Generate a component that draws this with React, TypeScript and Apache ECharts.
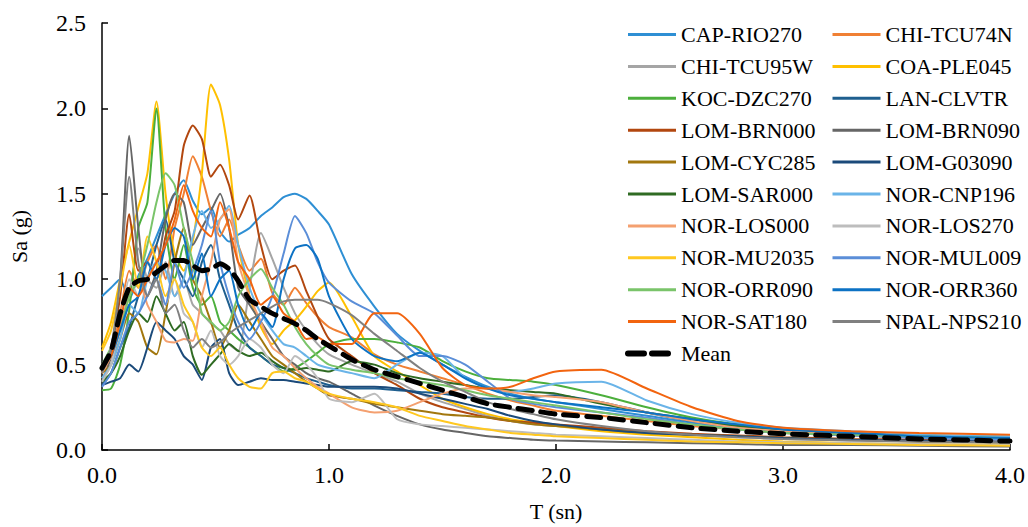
import React, { useEffect, useRef } from "react";
import * as echarts from "echarts";

const periods = [0, 0.04, 0.08, 0.12, 0.16, 0.2, 0.24, 0.28, 0.32, 0.36, 0.4, 0.44, 0.48, 0.52, 0.56, 0.6, 0.65, 0.7, 0.75, 0.8, 0.85, 0.9, 0.95, 1.0, 1.1, 1.2, 1.3, 1.4, 1.5, 1.6, 1.7, 1.8, 1.9, 2.0, 2.2, 2.4, 2.6, 2.8, 3.0, 3.3, 3.6, 4.0];

const capRio270 = [0.90, 0.95, 1.00, 0.88, 1.02, 1.12, 1.25, 1.38, 1.50, 1.58, 1.46, 1.38, 1.42, 1.28, 1.22, 1.26, 1.30, 1.37, 1.42, 1.48, 1.50, 1.47, 1.40, 1.32, 1.03, 0.84, 0.68, 0.58, 0.50, 0.43, 0.37, 0.33, 0.30, 0.28, 0.24, 0.20, 0.16, 0.13, 0.11, 0.09, 0.075, 0.06];
const chiTcu74n = [0.45, 0.55, 0.80, 1.05, 0.95, 1.10, 1.20, 1.00, 1.30, 1.50, 1.72, 1.60, 1.40, 1.25, 1.35, 1.20, 1.05, 1.12, 0.92, 0.85, 0.95, 0.86, 0.78, 0.72, 0.66, 0.56, 0.50, 0.46, 0.42, 0.38, 0.33, 0.29, 0.26, 0.23, 0.20, 0.17, 0.14, 0.12, 0.10, 0.085, 0.075, 0.065];
const chiTcu95w = [0.42, 0.50, 0.72, 0.92, 1.18, 1.00, 0.95, 1.10, 0.90, 1.00, 0.85, 0.80, 0.74, 0.70, 0.62, 0.58, 0.95, 1.27, 1.12, 0.95, 0.80, 0.70, 0.62, 0.56, 0.50, 0.45, 0.40, 0.33, 0.28, 0.24, 0.20, 0.17, 0.15, 0.14, 0.12, 0.10, 0.085, 0.075, 0.065, 0.055, 0.05, 0.04];
const coaPle045 = [0.60, 0.75, 1.00, 1.22, 1.42, 1.62, 2.04, 1.50, 1.15, 1.05, 1.22, 1.62, 2.14, 2.02, 1.70, 1.20, 0.90, 0.72, 0.62, 0.70, 0.76, 0.84, 0.93, 0.98, 0.78, 0.55, 0.46, 0.38, 0.30, 0.25, 0.21, 0.18, 0.16, 0.14, 0.11, 0.09, 0.075, 0.06, 0.05, 0.04, 0.035, 0.03];
const kocDzc270 = [0.35, 0.36, 0.50, 0.82, 1.30, 1.45, 2.00, 1.30, 1.00, 1.20, 0.95, 0.85, 0.90, 0.75, 0.70, 0.65, 0.60, 0.55, 0.50, 0.46, 0.48, 0.52, 0.57, 0.62, 0.65, 0.65, 0.63, 0.60, 0.52, 0.46, 0.42, 0.41, 0.40, 0.38, 0.32, 0.25, 0.19, 0.15, 0.12, 0.10, 0.085, 0.07];
const lanClvtr = [0.38, 0.45, 0.60, 0.72, 0.90, 1.00, 1.20, 1.35, 1.10, 1.00, 0.90, 1.10, 1.20, 1.00, 0.85, 0.70, 0.60, 0.55, 0.50, 0.48, 0.45, 0.42, 0.40, 0.38, 0.36, 0.36, 0.35, 0.34, 0.33, 0.31, 0.30, 0.30, 0.31, 0.32, 0.28, 0.22, 0.17, 0.14, 0.12, 0.10, 0.085, 0.07];
const lomBrn000 = [0.45, 0.60, 0.90, 1.38, 1.05, 1.10, 1.00, 1.25, 1.40, 1.78, 1.90, 1.82, 1.60, 1.67, 1.55, 1.35, 1.49, 1.20, 1.00, 1.05, 1.08, 0.93, 0.78, 0.65, 0.55, 0.45, 0.38, 0.30, 0.25, 0.22, 0.19, 0.17, 0.16, 0.15, 0.13, 0.11, 0.095, 0.085, 0.075, 0.065, 0.06, 0.05];
const lomBrn090 = [0.40, 0.55, 1.00, 1.84, 1.30, 0.90, 1.05, 1.35, 1.50, 1.45, 1.20, 1.30, 1.40, 1.50, 1.30, 0.95, 0.85, 0.75, 0.65, 0.55, 0.50, 0.45, 0.42, 0.40, 0.33, 0.26, 0.20, 0.15, 0.12, 0.10, 0.08, 0.07, 0.06, 0.055, 0.05, 0.045, 0.04, 0.035, 0.03, 0.03, 0.025, 0.02];
const lomCyc285 = [0.45, 0.50, 0.65, 0.80, 0.75, 0.60, 0.56, 0.80, 1.10, 1.30, 1.00, 0.90, 0.75, 0.60, 0.70, 0.85, 0.75, 0.65, 0.55, 0.50, 0.45, 0.40, 0.36, 0.32, 0.30, 0.27, 0.25, 0.23, 0.21, 0.20, 0.19, 0.17, 0.15, 0.14, 0.12, 0.10, 0.09, 0.08, 0.07, 0.06, 0.05, 0.045];
const lomG03090 = [0.38, 0.40, 0.42, 0.50, 0.46, 0.60, 0.75, 0.70, 0.65, 0.55, 0.50, 0.41, 0.60, 0.65, 0.45, 0.38, 0.40, 0.42, 0.41, 0.41, 0.40, 0.39, 0.38, 0.37, 0.37, 0.37, 0.36, 0.33, 0.30, 0.27, 0.24, 0.20, 0.17, 0.15, 0.12, 0.10, 0.09, 0.08, 0.07, 0.06, 0.055, 0.05];
const lomSar000 = [0.40, 0.45, 0.55, 0.70, 0.80, 0.75, 0.90, 0.80, 0.70, 0.75, 0.55, 0.44, 0.50, 0.56, 0.62, 0.58, 0.55, 0.57, 0.52, 0.48, 0.47, 0.48, 0.47, 0.46, 0.52, 0.50, 0.45, 0.42, 0.40, 0.38, 0.36, 0.35, 0.34, 0.33, 0.27, 0.22, 0.18, 0.14, 0.12, 0.10, 0.08, 0.07];
const norCnp196 = [0.42, 0.50, 0.65, 0.85, 0.80, 1.00, 1.10, 1.05, 0.90, 1.00, 1.25, 1.40, 1.30, 1.35, 1.43, 1.20, 0.95, 0.80, 0.70, 0.62, 0.60, 0.55, 0.50, 0.48, 0.45, 0.42, 0.50, 0.57, 0.55, 0.42, 0.36, 0.34, 0.36, 0.39, 0.40, 0.29, 0.21, 0.16, 0.13, 0.11, 0.09, 0.08];
const norLos000 = [0.45, 0.55, 0.70, 0.90, 1.00, 0.85, 0.75, 0.64, 0.63, 0.65, 0.64, 0.90, 1.10, 1.35, 1.41, 1.10, 0.90, 0.75, 0.60, 0.55, 0.48, 0.42, 0.37, 0.33, 0.25, 0.22, 0.23, 0.28, 0.33, 0.36, 0.36, 0.34, 0.32, 0.31, 0.28, 0.22, 0.17, 0.13, 0.11, 0.09, 0.075, 0.06];
const norLos270 = [0.40, 0.50, 0.75, 1.00, 0.90, 1.10, 1.00, 0.85, 1.00, 0.80, 0.75, 0.60, 0.70, 0.55, 0.50, 0.55, 0.65, 0.60, 0.50, 0.45, 0.55, 0.50, 0.42, 0.30, 0.28, 0.33, 0.18, 0.15, 0.14, 0.13, 0.12, 0.11, 0.10, 0.09, 0.08, 0.07, 0.06, 0.05, 0.045, 0.04, 0.035, 0.03];
const norMu2035 = [0.58, 0.70, 0.95, 1.20, 0.95, 1.25, 1.10, 0.90, 1.00, 0.85, 0.75, 0.60, 0.55, 0.60, 0.50, 0.42, 0.37, 0.36, 0.45, 0.46, 0.42, 0.40, 0.36, 0.33, 0.30, 0.28, 0.25, 0.20, 0.17, 0.14, 0.12, 0.10, 0.09, 0.08, 0.07, 0.06, 0.05, 0.045, 0.04, 0.035, 0.03, 0.025];
const norMul009 = [0.37, 0.45, 0.60, 0.75, 0.80, 0.90, 1.00, 0.85, 1.10, 0.95, 1.05, 1.20, 1.40, 1.10, 0.90, 0.75, 0.65, 0.75, 0.90, 1.15, 1.37, 1.27, 1.10, 0.98, 0.87, 0.80, 0.67, 0.55, 0.55, 0.50, 0.40, 0.30, 0.27, 0.25, 0.22, 0.19, 0.15, 0.12, 0.10, 0.085, 0.07, 0.06];
const norOrr090 = [0.50, 0.60, 0.70, 0.90, 1.00, 1.20, 1.45, 1.62, 1.55, 1.30, 1.10, 0.80, 0.75, 0.70, 0.75, 0.90, 1.00, 1.06, 0.95, 0.85, 0.72, 0.62, 0.55, 0.50, 0.47, 0.45, 0.42, 0.40, 0.38, 0.35, 0.32, 0.30, 0.28, 0.26, 0.22, 0.18, 0.15, 0.12, 0.10, 0.09, 0.08, 0.07];
const norOrr360 = [0.50, 0.55, 0.70, 0.85, 0.90, 1.10, 1.00, 1.20, 1.30, 1.25, 1.00, 1.15, 0.90, 1.00, 1.05, 0.85, 0.70, 0.80, 0.72, 1.00, 1.18, 1.20, 1.12, 0.90, 0.65, 0.55, 0.52, 0.57, 0.50, 0.42, 0.36, 0.32, 0.30, 0.28, 0.25, 0.22, 0.18, 0.15, 0.12, 0.10, 0.08, 0.07];
const norSat180 = [0.50, 0.55, 0.75, 0.95, 0.90, 1.00, 1.10, 1.20, 1.35, 1.55, 1.40, 1.30, 1.25, 1.45, 1.30, 1.10, 1.00, 0.85, 0.90, 0.80, 0.75, 0.65, 0.66, 0.62, 0.62, 0.80, 0.80, 0.68, 0.48, 0.38, 0.36, 0.37, 0.42, 0.46, 0.47, 0.36, 0.25, 0.17, 0.13, 0.11, 0.10, 0.09];
const npalNps210 = [0.45, 0.60, 1.00, 1.60, 1.10, 0.90, 1.00, 0.80, 0.85, 0.70, 0.60, 0.65, 0.60, 0.63, 0.68, 0.72, 0.76, 0.80, 0.84, 0.87, 0.88, 0.88, 0.88, 0.86, 0.79, 0.68, 0.58, 0.48, 0.40, 0.34, 0.28, 0.24, 0.21, 0.18, 0.14, 0.11, 0.09, 0.075, 0.065, 0.055, 0.05, 0.045];
const meanValues = [0.48, 0.58, 0.80, 0.95, 0.99, 1.00, 1.04, 1.08, 1.11, 1.11, 1.08, 1.05, 1.06, 1.09, 1.06, 0.99, 0.88, 0.84, 0.80, 0.77, 0.74, 0.70, 0.65, 0.61, 0.53, 0.47, 0.43, 0.39, 0.35, 0.31, 0.27, 0.25, 0.23, 0.21, 0.19, 0.16, 0.13, 0.11, 0.095, 0.08, 0.065, 0.052];

const recordNames = ["CAP-RIO270", "CHI-TCU74N", "CHI-TCU95W", "COA-PLE045", "KOC-DZC270", "LAN-CLVTR", "LOM-BRN000", "LOM-BRN090", "LOM-CYC285", "LOM-G03090", "LOM-SAR000", "NOR-CNP196", "NOR-LOS000", "NOR-LOS270", "NOR-MU2035", "NOR-MUL009", "NOR-ORR090", "NOR-ORR360", "NOR-SAT180", "NPAL-NPS210"];
const recordValues = [capRio270, chiTcu74n, chiTcu95w, coaPle045, kocDzc270, lanClvtr, lomBrn000, lomBrn090, lomCyc285, lomG03090, lomSar000, norCnp196, norLos000, norLos270, norMu2035, norMul009, norOrr090, norOrr360, norSat180, npalNps210];
const recordColors = ["#2E8FD4", "#F08034", "#A5A5A5", "#FFC000", "#4CAF3C", "#1F5F8F", "#B2470F", "#666666", "#A2770E", "#1B4A7A", "#2F6B23", "#6AB4E8", "#F4A070", "#BDBDBD", "#FFC820", "#5B8ED8", "#7AC46A", "#0C72C4", "#F2640F", "#808080"];
const meanName = "Mean";

const FONT = "Liberation Serif";

export default function App() {
  const ref = useRef<HTMLDivElement>(null);
  useEffect(() => {
    document.body.style.margin = "0";
    if (!ref.current) return;
    const chart = echarts.init(ref.current, undefined, { renderer: "svg" });
    const series: any[] = recordNames.map((name, k) => ({
      name,
      type: "line",
      data: periods.map((t, i) => [t, recordValues[k][i]]),
      showSymbol: false,
      symbol: "none",
      smooth: 0.2,
      lineStyle: { width: 2, color: recordColors[k] },
      itemStyle: { color: recordColors[k] },
    }));
    series.push({
      name: meanName,
      type: "line",
      data: periods.map((t, i) => [t, meanValues[i]]),
      showSymbol: false,
      symbol: "none",
      smooth: 0.2,
      z: 5,
      lineStyle: { width: 5, color: "#000000", type: [14, 9], cap: "round" },
      itemStyle: { color: "#000000" },
    });
    const col1: any[] = recordNames.filter((_, i) => i % 2 === 0).map((n) => ({ name: n }));
    col1.push({ name: meanName, lineStyle: { width: 6, type: [16, 8], cap: "round", color: "#000" } });
    const col2 = recordNames.filter((_, i) => i % 2 === 1);
    const legendBase = {
      orient: "vertical",
      top: 18.5,
      itemWidth: 48,
      itemHeight: 14,
      itemGap: 9.9,
      itemStyle: { opacity: 0 },
      lineStyle: { width: 3 },
      textStyle: { fontFamily: FONT, fontSize: 22, color: "#000" },
    };
    chart.setOption({
      animation: false,
      backgroundColor: "#ffffff",
      grid: { left: 102, right: 14, top: 23, bottom: 74, containLabel: false },
      legend: [
        { ...legendBase, left: 620, data: col1 },
        { ...legendBase, left: 826, data: col2 },
      ],
      xAxis: {
        type: "value",
        min: 0,
        max: 4,
        interval: 1,
        name: "T (sn)",
        nameLocation: "middle",
        nameGap: 50,
        nameTextStyle: { fontFamily: FONT, fontSize: 22, color: "#000" },
        axisLine: { lineStyle: { color: "#000", width: 1.5 } },
        axisTick: { inside: true, length: 6, lineStyle: { color: "#000", width: 1.5 } },
        axisLabel: { fontFamily: FONT, fontSize: 24, color: "#000", margin: 13, formatter: (v: number) => v.toFixed(1) },
        splitLine: { show: false },
      },
      yAxis: {
        type: "value",
        min: 0,
        max: 2.5,
        interval: 0.5,
        name: "Sa (g)",
        nameLocation: "middle",
        nameGap: 72,
        nameTextStyle: { fontFamily: FONT, fontSize: 22, color: "#000" },
        axisLine: { show: true, lineStyle: { color: "#000", width: 1.5 } },
        axisTick: { show: true, inside: true, length: 6, lineStyle: { color: "#000", width: 1.5 } },
        axisLabel: { fontFamily: FONT, fontSize: 24, color: "#000", margin: 16, formatter: (v: number) => v.toFixed(1) },
        splitLine: { show: false },
      },
      series,
    });
    return () => chart.dispose();
  }, []);
  return <div ref={ref} style={{ width: 1028, height: 527, position: "absolute", left: 0, top: 0 }} />;
}
